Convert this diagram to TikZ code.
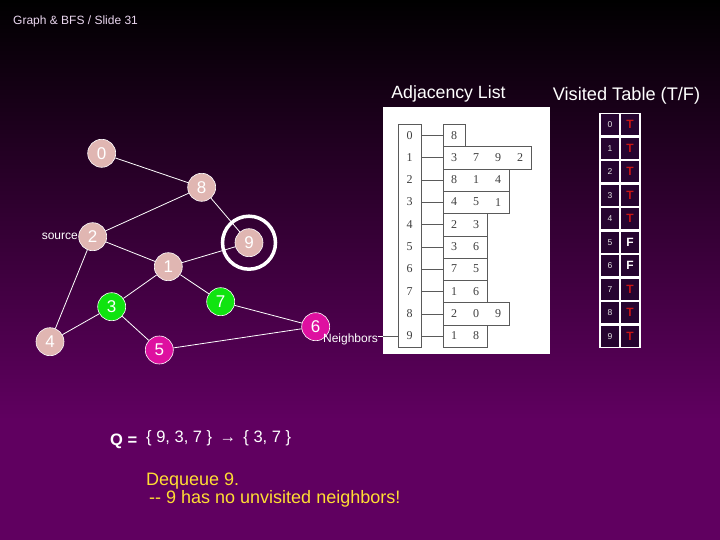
\documentclass[tikz,border=0pt]{standalone}
\usepackage{fontspec}
\setmainfont{Liberation Sans}
\newfontfamily\adjfont{Liberation Serif}
\usetikzlibrary{graphs}
\definecolor{bgpurple}{RGB}{96,0,96}
\definecolor{nodepink}{RGB}{224,182,178}
\definecolor{nodegreen}{RGB}{16,228,16}
\definecolor{nodemag}{RGB}{222,16,160}
\definecolor{cellpurple}{RGB}{38,4,48}
\definecolor{tred}{RGB}{200,20,20}
\definecolor{qyellow}{RGB}{255,221,51}
\definecolor{adjgray}{RGB}{90,90,90}
\definecolor{titlepink}{RGB}{235,215,240}
\tikzset{
  vtx/.style={circle, fill=nodepink, draw=white, line width=0.6pt, minimum size=28pt,
    inner sep=0pt, text=white, font=\fontsize{17}{17}\selectfont},
  vgreen/.style={vtx, fill=nodegreen},
  vmag/.style={vtx, fill=nodemag},
  small/.style={text=white, inner sep=0pt, font=\fontsize{12}{12}\selectfont},
  head/.style={text=white, inner sep=0pt, anchor=base, font=\fontsize{17.7}{17.7}\selectfont},
  adjbox/.style={draw=adjgray, line width=0.7pt, inner sep=0pt, anchor=north west, minimum height=22.3pt},
  adjnum/.style={text=adjgray!70!black, inner sep=0pt, font=\adjfont\fontsize{12}{12}\selectfont},
  vcell/.style={fill=cellpurple, inner sep=0pt, minimum width=18pt, minimum height=21pt,
    text=white!90!black, font=\fontsize{8.5}{8.5}\selectfont},
  visT/.style={text=tred, font=\bfseries\fontsize{12}{12}\selectfont},
  visF/.style={text=white, font=\bfseries\fontsize{12}{12}\selectfont},
}
\begin{document}
\begin{tikzpicture}[x=1pt, y=-1pt]
  \useasboundingbox (0,0) rectangle (720,540);
  \shade[top color=black, bottom color=bgpurple] (0,0) rectangle (720,420);
  \fill[bgpurple] (0,419.5) rectangle (720,540);

  \node[anchor=base west, inner sep=0pt, text=titlepink, font=\fontsize{12}{12}\selectfont] (title) at (13,25) {Graph \& BFS / Slide 31};

  % graph
    \node[vtx] (v0) at (101.7,153.3) {0};
    \node[vtx] (v8) at (201.7,187.3) {8};
    \node[vtx] (v2) at (92.7,236.7) {2};
    \node[vtx] (v9) at (249,242.7) {9};
    \node[vtx] (v1) at (168.3,266.7) {1};
    \node[vgreen] (v3) at (111.7,306.7) {3};
    \node[vgreen] (v7) at (220.7,301.7) {7};
    \node[vtx] (v4) at (50,341.7) {4};
    \node[vmag] (v5) at (159.3,350) {5};
    \node[vmag] (v6) at (315.7,326.7) {6};
  \graph[use existing nodes, edges={white, line width=0.8pt}] {
    v0 -- v8;
    v8 -- v2;
    v8 -- v9;
    v2 -- v1;
    v2 -- v4;
    v1 -- v9;
    v1 -- v3;
    v1 -- v7;
    v3 -- v4;
    v3 -- v5;
    v7 -- v6;
    v5 -- v6;
  };
  \draw[white, line width=3.5pt] (v9) circle (26.5pt);
  \node[small, anchor=east] (src) at (78,236.5) {source};

  % adjacency list
  \node[head] (adjhead) at (448.5,99) {Adjacency List};
  \node[fill=white, anchor=north west, inner sep=0pt, minimum width=167pt, minimum height=247pt] (adjimg) at (383,107) {};
  \node[adjbox, minimum width=23pt, minimum height=223pt] (col) at (398,124) {};
  \foreach \i in {0,...,9}
    \node[adjnum] (idx\i) at (409.5,135.15+22.3*\i) {\i};
  \foreach \i/\k/\nbrs in {0/1/{8}, 1/4/{3,7,9,2}, 2/3/{8,1,4}, 3/3/{4,5,1}, 4/2/{2,3},
      5/2/{3,6}, 6/2/{7,5}, 7/2/{1,6}, 8/3/{2,0,9}, 9/2/{1,8}} {
    \node[adjbox, minimum width=22*\k] (row\i) at (443,124+22.3*\i) {};
    \draw[adjgray, line width=0.7pt] (col.east |- row\i.west) -- (row\i.west);
    \foreach \n [count=\j] in \nbrs
      \node[adjnum] (nb\i-\j) at (432+22*\j,135.15+22.3*\i) {\n};
  }
  \node[small, anchor=base east] (nbr) at (378,342) {Neighbors};
  \draw[white, line width=0.8pt] (nbr.east |- row9.west) -- (adjimg.west |- row9.west);
  \draw[adjgray, line width=0.7pt] (adjimg.west |- row9.west) -- (col.west |- row9.west);

  % visited table
  \node[head, font=\fontsize{18.2}{18.2}\selectfont] (vishead) at (626.5,100.5) {Visited Table (T/F)};
  \node[fill=white, anchor=north west, inner sep=0pt, minimum width=42pt, minimum height=235pt] (vtab) at (599,113) {};
  \foreach \i/\v in {0/T, 1/T, 2/T, 3/T, 4/T, 5/F, 6/F, 7/T, 8/T, 9/T} {
    \node[vcell] (vi\i) at (610,124.75+23.5*\i) {\i};
    \node[vcell, vis\v] (vv\i) at (630,124.75+23.5*\i) {\v};
  }

  % queue
  \node[anchor=base west, inner sep=0pt, text=white, font=\bfseries\fontsize{16.5}{16.5}\selectfont] (qlbl) at (110,445) {Q =};
  \node[anchor=base west, inner sep=0pt, text=white, font=\fontsize{16.5}{16.5}\selectfont] (qset) at (146,442) {\{ 9, 3, 7 \} \,→\, \{ 3, 7 \}\kern1pt};
  \node[anchor=base west, inner sep=0pt, text=qyellow, font=\fontsize{18}{18}\selectfont] (deq) at (146,485) {Dequeue 9.};
  \node[anchor=base west, inner sep=0pt, text=qyellow, font=\fontsize{18}{18}\selectfont] (deqb) at (149,503.5) {{-}{-} 9 has no unvisited neighbors!};
\end{tikzpicture}
\end{document}
